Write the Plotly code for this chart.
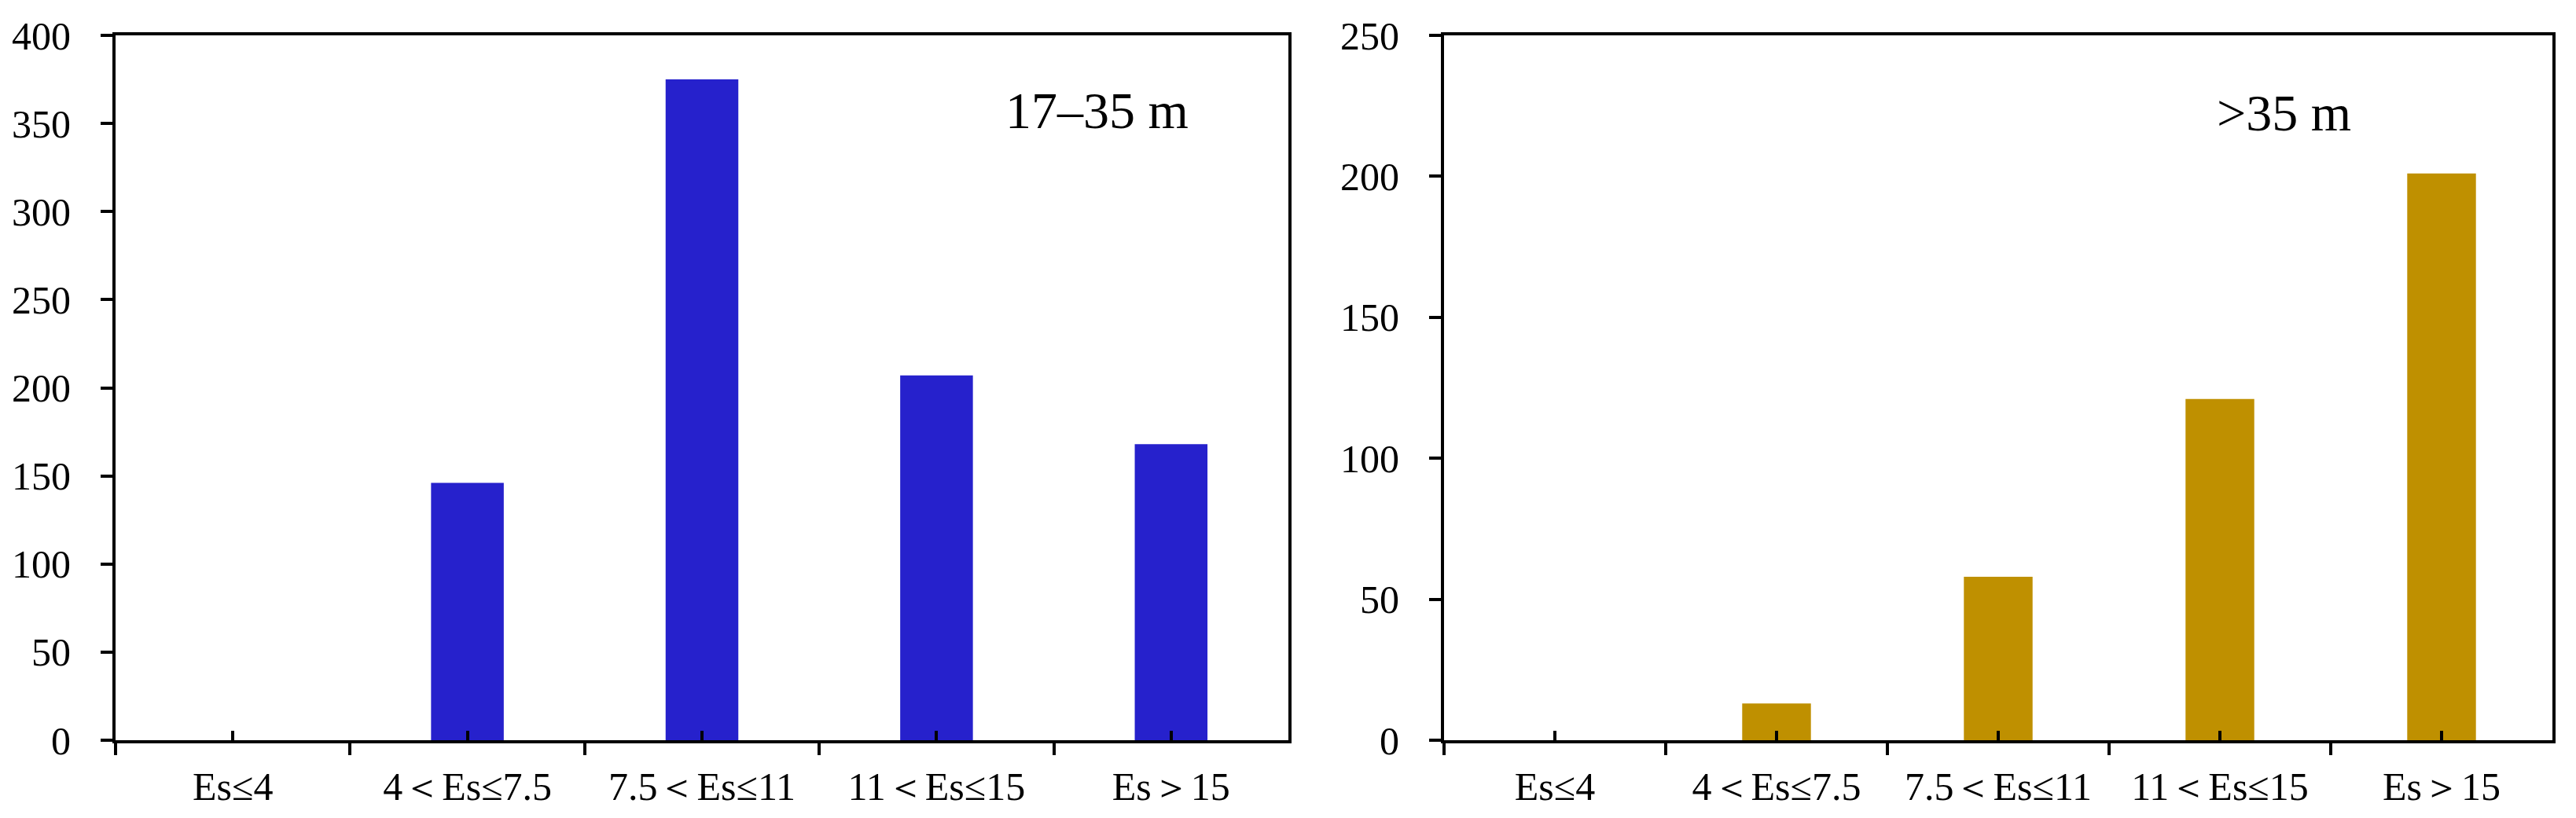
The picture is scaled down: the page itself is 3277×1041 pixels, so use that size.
import plotly.graph_objects as go

categories = ["Es≤4", "4＜Es≤7.5", "7.5＜Es≤11", "11＜Es≤15", "Es＞15"]
counts_17_35 = [0, 146, 375, 207, 168]
counts_over_35 = [0, 13, 58, 121, 201]
label_17_35 = "17–35 m"
label_over_35 = ">35 m"

blue = "#2621cc"
gold = "#bf9000"
font_family = "Liberation Serif"

# page body has an 8px margin, so the figure is a bit smaller and everything is shifted
W, H, OFF = 3261, 1025, 8


def px_x(v):
    return (v - OFF) / W


def px_y(v):
    return (H - (v - OFF)) / H


fig = go.Figure()

fig.add_trace(go.Bar(x=categories, y=counts_17_35, marker=dict(color=blue, line=dict(width=0)),
                     xaxis="x", yaxis="y"))
fig.add_trace(go.Bar(x=categories, y=counts_over_35, marker=dict(color=gold, line=dict(width=0)),
                     xaxis="x2", yaxis="y2"))

# invisible traces only to carry the small centre ticks (inside) on overlay axes
fig.add_trace(go.Scatter(x=categories, y=counts_17_35, mode="markers", opacity=0,
                         hoverinfo="skip", xaxis="x3", yaxis="y"))
fig.add_trace(go.Scatter(x=categories, y=counts_over_35, mode="markers", opacity=0,
                         hoverinfo="skip", xaxis="x4", yaxis="y2"))

dom_left = [px_x(147), px_x(1639)]
dom_right = [px_x(1837), px_x(3247)]
dom_y = [px_y(942), px_y(45)]

tickfont = dict(family=font_family, size=50, color="black")

xmain = dict(type="category", range=[-0.5, 4.5], tickson="boundaries", ticks="outside",
             ticklen=15, tickwidth=4, tickcolor="black", showline=True, linewidth=4,
             linecolor="black", mirror=True, showgrid=False, zeroline=False,
             tickfont=tickfont, ticklabelstandoff=12, automargin=False)
xover = dict(type="category", range=[-0.5, 4.5], ticks="inside", ticklen=12, tickwidth=4,
             tickcolor="black", showticklabels=False, showline=False, showgrid=False,
             zeroline=False, side="bottom", automargin=False)
ymain = dict(ticks="outside", ticklen=15, tickwidth=4, tickcolor="black", dtick=50,
             showline=True, linewidth=4, linecolor="black", mirror=True, showgrid=False,
             zeroline=False, tickfont=tickfont, ticklabelstandoff=28, domain=dom_y,
             automargin=False)

fig.update_layout(
    width=W, height=H,
    margin=dict(l=0, r=0, t=0, b=0),
    paper_bgcolor="white", plot_bgcolor="white",
    showlegend=False,
    bargap=0.69,
    xaxis=dict(xmain, domain=dom_left, anchor="y"),
    xaxis2=dict(xmain, domain=dom_right, anchor="y2"),
    xaxis3=dict(xover, overlaying="x", anchor="y"),
    xaxis4=dict(xover, overlaying="x2", anchor="y2"),
    yaxis=dict(ymain, range=[0, 400], anchor="x"),
    yaxis2=dict(ymain, range=[0, 250], anchor="x2"),
    annotations=[
        dict(text=label_17_35, xref="paper", yref="paper", x=px_x(1395), y=px_y(140),
             showarrow=False, xanchor="center", yanchor="middle",
             font=dict(family=font_family, size=66, color="black")),
        dict(text=label_over_35, xref="paper", yref="paper", x=px_x(2905), y=px_y(143),
             showarrow=False, xanchor="center", yanchor="middle",
             font=dict(family=font_family, size=66, color="black")),
    ],
)

fig.write_html("out.html")
